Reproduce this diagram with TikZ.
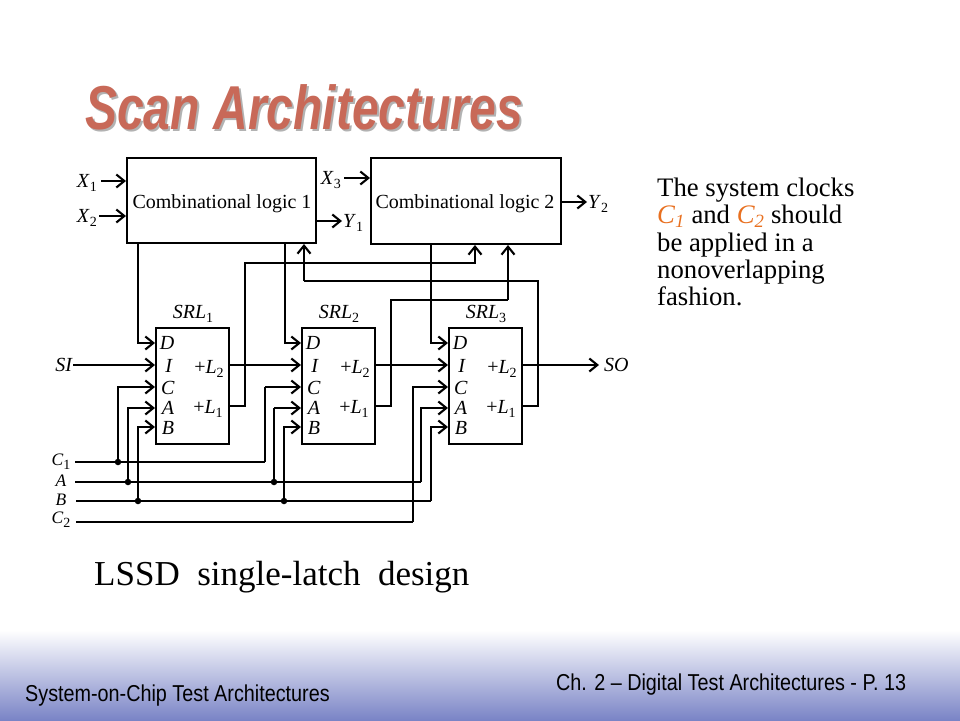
\documentclass[tikz,border=0pt]{standalone}
\usepackage{fontspec}
\usepackage{amsmath}
\setmainfont{Liberation Serif}
\newfontfamily\headfont[FakeStretch=0.775]{Liberation Sans}
\newfontfamily\footfont[FakeStretch=0.86]{Liberation Sans}
\usetikzlibrary{arrows.meta}
\definecolor{titlered}{RGB}{200,105,88}
\definecolor{clkorange}{RGB}{232,112,32}
\definecolor{footblue}{RGB}{122,132,198}
\newcommand{\clk}[1]{\textcolor{clkorange}{\textit{C\textsubscript{#1}}}}
\newcommand{\sig}[2]{\textit{#1}\raisebox{-4pt}{\fontsize{14}{14}\selectfont #2}}
\tikzset{
  wire/.style={line width=1.9pt},
  thickwire/.style={line width=2.9pt},
  arr/.style={-{Straight Barb[length=8pt,width=13pt,line width=2.1pt]}},
  block/.style={draw,line width=2pt,minimum width=189pt,minimum height=85pt,inner sep=0pt},
  srlbox/.style={draw,line width=1.9pt,minimum width=73pt,minimum height=116pt,inner sep=0pt},
  dot/.style={circle,fill,inner sep=0pt,minimum size=6.5pt},
  lab/.style={inner sep=0pt,font=\fontsize{20}{20}\selectfont},
  pinlab/.style={lab},
  clklab/.style={inner sep=0pt,font=\fontsize{17.5}{17.5}\selectfont}
}
\begin{document}
\begin{tikzpicture}[x=1pt,y=-1pt]
\useasboundingbox (0,0) rectangle (960,720);
% footer band
\shade[top color=white,bottom color=footblue] (0,630) rectangle (960,720);
\node[anchor=west,inner sep=0pt,font=\footfont\fontsize{23}{23}\selectfont] (footleft) at (25,696) {System-on-Chip Test Architectures};
\node[anchor=west,inner sep=0pt,font=\footfont\fontsize{23}{23}\selectfont] (footright) at (556,685) {Ch. 2 – Digital Test Architectures - P. 13};
% title
\node[anchor=west,inner sep=0pt,text=black!30,font=\headfont\bfseries\itshape\fontsize{62}{62}\selectfont] (titleback) at (87,109) {Scan Architectures};
\node[anchor=west,inner sep=0pt,text=titlered,font=\headfont\bfseries\itshape\fontsize{62}{62}\selectfont] (title) at (85,107) {Scan Architectures};
% side text
\node[anchor=north west,inner sep=0pt,align=left,font=\fontsize{26.7}{27.2}\selectfont] (note) at (657,178) {The system clocks\\ \clk{1} and \clk{2} should\\ be applied in a\\ nonoverlapping\\ fashion.};
\node[anchor=west,inner sep=0pt,font=\fontsize{35}{35}\selectfont] (caption) at (94,577) {LSSD\ \ single-latch\ \ design};
% logic blocks
\node[block,anchor=north west] (box1) at (126,157) {};
\node[block,anchor=north west,minimum width=190pt,minimum height=86pt] (box2) at (370,157) {};
\node[inner sep=0pt,font=\fontsize{20}{20}\selectfont] (name1) at (222,204) {Combinational logic 1};
\node[inner sep=0pt,font=\fontsize{20}{20}\selectfont] (name2) at (465,204) {Combinational logic 2};
% scan latches
\foreach \i/\x in {1/155,2/301,3/448} {
  \node[srlbox,anchor=north west] (srl\i) at (\x,327) {};
  \node[lab] (name\i s) at (\x+38,314) {\sig{SRL}{\i}};
  \node[pinlab] (pd\i) at (\x+12,343) {\textit{D}};
  \node[pinlab] (pi\i) at (\x+14,366) {\textit{I}};
  \node[pinlab] (pc\i) at (\x+13,388) {\textit{C}};
  \node[pinlab] (pa\i) at (\x+13,408) {\textit{A}};
  \node[pinlab] (pb\i) at (\x+13,428) {\textit{B}};
  \node[pinlab] (pq\i) at (\x+54,369) {+\sig{L}{2}};
  \node[pinlab] (pr\i) at (\x+53,409) {+\sig{L}{1}};
  \coordinate (srl\i-d) at (\x,343);
  \coordinate (srl\i-i) at (\x,365);
  \coordinate (srl\i-c) at (\x,387);
  \coordinate (srl\i-a) at (\x,408);
  \coordinate (srl\i-b) at (\x,427);
  \coordinate (srl\i-q2) at (\x+73,365);
  \coordinate (srl\i-q1) at (\x+73,406);
}
% primary inputs and outputs
\node[lab,anchor=east] (x1) at (97,183) {\sig{X}{1}};
\node[lab,anchor=east] (x2) at (97,218) {\sig{X}{2}};
\node[lab,anchor=east] (x3) at (341,180) {\sig{X}{3}};
\node[lab,anchor=west] (y1) at (343,223) {\sig{Y}{1}};
\node[lab,anchor=west] (y2) at (588,204) {\sig{Y}{2}};
\node[lab,anchor=east] (si) at (73,365) {\textit{SI}};
\node[lab,anchor=west] (so) at (604,365) {\textit{SO}};
\coordinate (x1in) at (101,181);
\coordinate (x2in) at (99,216);
\coordinate (x3in) at (344,178);
\coordinate (y1out) at (342,221);
\coordinate (y2out) at (587,202);
\coordinate (soout) at (599,365);
\draw[wire,arr] (x1in) -- (x1in -| box1.west);
\draw[wire,arr] (x2in) -- (x2in -| box1.west);
\draw[wire,arr] (x3in) -- (x3in -| box2.west);
\draw[wire,arr] (y1out -| box1.east) -- (y1out);
\draw[wire,arr] (y2out -| box2.east) -- (y2out);
% next state lines
\draw[wire,arr] (box1.south -| 138,0) |- (srl1-d);
\draw[wire,arr] (box1.south -| 285,0) |- (srl2-d);
\draw[wire,arr] (box2.south -| 431,0) |- (srl3-d);
% scan path
\draw[wire,arr] (si) -- (srl1-i);
\draw[wire,arr] (srl1-q2) -- (srl2-i);
\draw[wire,arr] (srl2-q2) -- (srl3-i);
\draw[wire,arr] (srl3-q2) -- (soout);
% feedback to logic
\coordinate (fb1) at (245,263);
\coordinate (fb2) at (391,300);
\coordinate (fb3) at (538,281);
\coordinate (fb2top) at (508,300);
\coordinate (fb3top) at (304,281);
\draw[wire,arr] (srl1-q1) -| (fb1) -| (box2.south -| 475,0);
\draw[wire] (srl2-q1) -| (fb2) -- (fb2top);
\draw[thickwire,arr] (fb2top) -- (box2.south -| fb2top);
\draw[wire] (srl3-q1) -| (fb3) -- (fb3top);
\draw[thickwire,arr] (fb3top) -- (box1.south -| fb3top);
% clocks
\node[clklab] (lc1) at (61,462) {\sig{C}{1}};
\node[clklab] (la) at (61,481) {\textit{A}};
\node[clklab] (lb) at (61,500) {\textit{B}};
\node[clklab] (lc2) at (61,520) {\sig{C}{2}};
\coordinate (c1in) at (75,462);
\coordinate (ain) at (75,482);
\coordinate (bin) at (76,501);
\coordinate (c2in) at (76,522);
\node[dot] (c1dot) at (118,462) {};
\node[dot] (adot1) at (128,482) {};
\node[dot] (adot2) at (274,482) {};
\node[dot] (bdot1) at (138,501) {};
\node[dot] (bdot2) at (284,501) {};
\coordinate (c1end) at (265,462);
\coordinate (aend) at (421,482);
\coordinate (bend) at (431,501);
\coordinate (c2end) at (413,522);
\draw[wire] (c1in) -- (c1end);
\draw[wire] (ain) -- (aend);
\draw[wire] (bin) -- (bend);
\draw[wire] (c2in) -- (c2end);
\draw[wire,arr] (c1dot) |- (srl1-c);
\draw[wire,arr] (adot1) |- (srl1-a);
\draw[wire,arr] (bdot1) |- (srl1-b);
\draw[wire] (c1end) -- (c1end |- srl2-c);
\draw[thickwire,arr] (c1end |- srl2-c) -- (srl2-c);
\draw[wire] (adot2) -- (adot2 |- srl2-a);
\draw[thickwire,arr] (adot2 |- srl2-a) -- (srl2-a);
\draw[wire,arr] (bdot2) |- (srl2-b);
\draw[wire,arr] (c2end) |- (srl3-c);
\draw[wire,arr] (aend) |- (srl3-a);
\draw[wire,arr] (bend) |- (srl3-b);
\end{tikzpicture}
\end{document}
